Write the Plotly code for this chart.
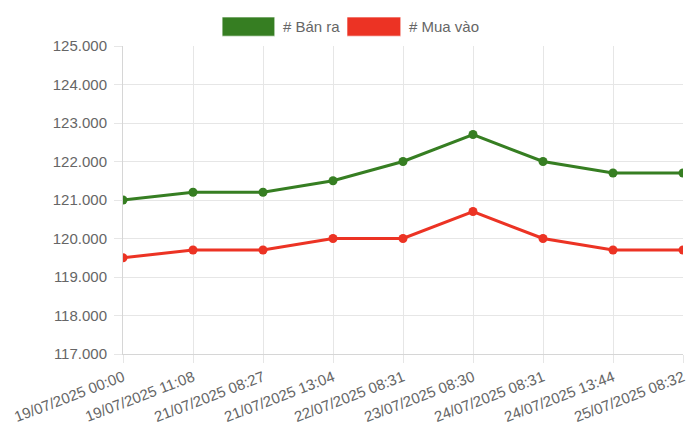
import plotly.graph_objects as go

# du lieu gia (nghin dong)
thoi_gian = ["19/07/2025 00:00", "19/07/2025 11:08", "21/07/2025 08:27",
             "21/07/2025 13:04", "22/07/2025 08:31", "23/07/2025 08:30",
             "24/07/2025 08:31", "24/07/2025 13:44", "25/07/2025 08:32"]
ban_ra = [121.0, 121.2, 121.2, 121.5, 122.0, 122.7, 122.0, 121.7, 121.7]
mua_vao = [119.5, 119.7, 119.7, 120.0, 120.0, 120.7, 120.0, 119.7, 119.7]
y_ticks = [117, 118, 119, 120, 121, 122, 123, 124, 125]

series = [("# Bán ra", ban_ra, "#367e22"),
          ("# Mua vào", mua_vao, "#ec3324")]

fig = go.Figure()
for name, vals, color in series:
    fig.add_trace(go.Scatter(x=thoi_gian, y=vals, name=name, mode="lines+markers",
                             line=dict(color=color, width=3),
                             marker=dict(color=color, size=9),
                             showlegend=False))

## legend kieu chart.js: o mau + chu
box_x = [(0.177, 0.271), (0.4, 0.496)]
for (name, vals, color), (x0, x1) in zip(series, box_x):
    fig.add_shape(type="rect", xref="paper", yref="paper", x0=x0, x1=x1,
                  y0=1.032, y1=1.094, fillcolor=color,
                  line=dict(color="rgba(255,255,255,0.6)", width=1))
    fig.add_annotation(xref="paper", yref="paper", x=x1 + 0.011, y=1.063,
                       text=name, showarrow=False, xanchor="left", yanchor="middle",
                       font=dict(size=15, color="#666666"))

# trang html co body margin 8px -> bu lai
fig.update_layout(
    width=700, height=436,
    margin=dict(l=115, r=25, t=38, b=90),
    plot_bgcolor="white", paper_bgcolor="white",
    font=dict(family="Liberation Sans, Arial, sans-serif", size=15, color="#666666"),
)
fig.update_xaxes(type="category", range=[0, 8], tickangle=-21, automargin=False,
                 showgrid=True, gridcolor="#e6e6e6", zeroline=False,
                 showline=True, linecolor="#d6d6d6", linewidth=1,
                 ticks="outside", ticklen=8, tickcolor="#e6e6e6")
fig.update_yaxes(range=[117, 125], tickvals=y_ticks, automargin=False,
                 ticktext=[f"{v}.000" for v in y_ticks], ticklabelstandoff=4,
                 showgrid=True, gridcolor="#e6e6e6", zeroline=False,
                 showline=True, linecolor="#d6d6d6", linewidth=1,
                 ticks="outside", ticklen=8, tickcolor="#e6e6e6")

fig.write_html("out.html")
